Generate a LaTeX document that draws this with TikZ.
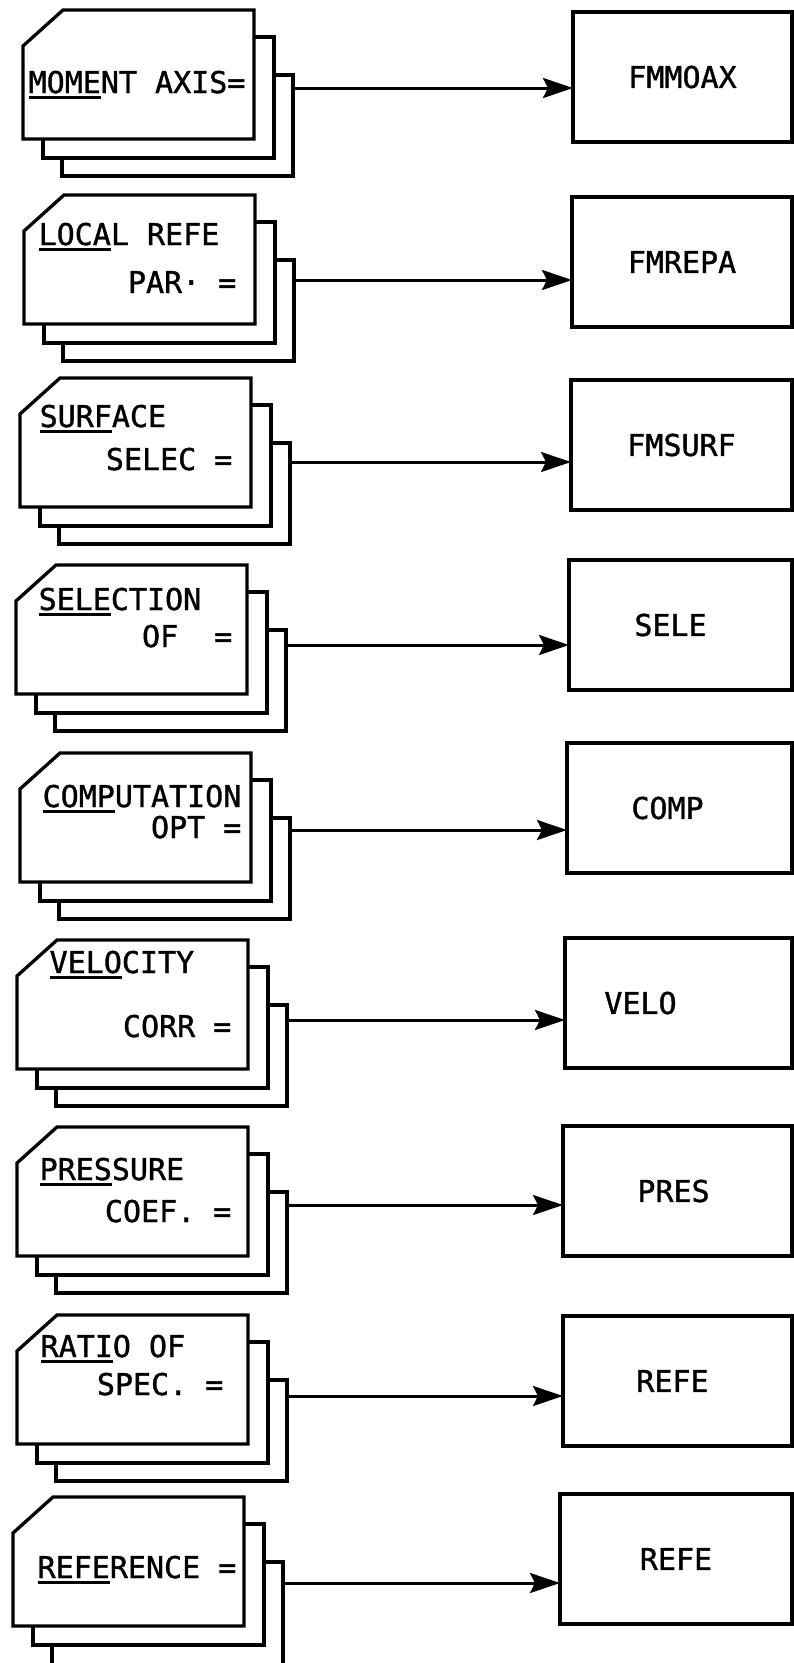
\documentclass[tikz,border=0pt]{standalone}
\usepackage{fontspec}
\newfontfamily\cardface{DejaVu Sans Mono}[FakeBold=1.2]
\usetikzlibrary{arrows.meta}
\newcommand{\cardfont}{\cardface\fontsize{30}{35}\selectfont}
\newcommand{\abbr}[1]{\setbox0\hbox{#1}\rlap{\rule[-6pt]{\wd0}{2.8pt}}\box0}

\begin{document}
\begin{tikzpicture}[x=1pt, y=-1pt, line width=3.3pt,
    card/.style={rectangle, minimum width=231, minimum height=129, inner sep=0pt, outer sep=0pt,
        append after command={\pgfextra{\draw[fill=white] ([xshift=40pt]\tikzlastnode.north west) -- (\tikzlastnode.north east) -- (\tikzlastnode.south east) -- (\tikzlastnode.south west) -- ([yshift=-36pt]\tikzlastnode.north west) -- cycle;}}},
    back/.style={draw, fill=white, rectangle, minimum width=231, minimum height=101, anchor=north west, inner sep=0pt, outer sep=0pt},
    mid/.style={draw, fill=white, rectangle, minimum width=231, minimum height=121, anchor=north west, inner sep=0pt, outer sep=0pt},
    blk/.style={draw, rectangle, minimum height=130, anchor=north west, inner sep=0pt, outer sep=0pt, font=\cardfont},
    txt/.style={inner sep=0pt, font=\cardfont},
    arr/.style={-{Stealth[length=30pt, width=20pt, inset=5pt]}, line width=3pt}
]
\useasboundingbox (0,0) rectangle (794,1663);
\clip (0,0) rectangle (794,1663);

% moment axis
\node[back] (bk1) at (62,75) {};
\node[mid] (md1) at (43,37) {};
\node[card] (cd1) at (138.5,74.5) {};
\node[txt, anchor=base west] (ta1) at (27,93) {\abbr{MOME}NT AXIS=};
\node[blk, minimum width=219] (bx1) at (573,12) {FMMOAX};
\draw[arr] (bk1.east |- 0,88) -- (bx1.west |- 0,88);

% local reference
\node[back] (bk2) at (63,260) {};
\node[mid] (md2) at (44,222) {};
\node[card] (cd2) at (139.5,259.5) {};
\node[txt, anchor=base west] (ta2) at (37,245) {\abbr{LOCA}L REFE};
\node[txt, anchor=base east] (tb2) at (238,293) {PAR· =};
\node[blk, minimum width=220] (bx2) at (572,197) {FMREPA};
\draw[arr] (bk2.east |- 0,280) -- (bx2.west |- 0,280);

% surface
\node[back] (bk3) at (59,443) {};
\node[mid] (md3) at (40,405) {};
\node[card] (cd3) at (135.5,442.5) {};
\node[txt, anchor=base west] (ta3) at (38,427) {\abbr{SURF}ACE};
\node[txt, anchor=base east] (tb3) at (234,470) {SELEC =};
\node[blk, minimum width=221] (bx3) at (571,380) {FMSURF};
\draw[arr] (bk3.east |- 0,462) -- (bx3.west |- 0,462);

% selection
\node[back] (bk4) at (55,630) {};
\node[mid] (md4) at (36,592) {};
\node[card] (cd4) at (131.5,629.5) {};
\node[txt, anchor=base west] (ta4) at (37,610) {\abbr{SELE}CTION};
\node[txt, anchor=base east] (tb4) at (234,647) {OF~~=};
\node[blk, minimum width=223] (bx4) at (569,560) {SELE\kern20pt};
\draw[arr] (bk4.east |- 0,645) -- (bx4.west |- 0,645);

% computation
\node[back] (bk5) at (59,818) {};
\node[mid] (md5) at (40,780) {};
\node[card] (cd5) at (135.5,817.5) {};
\node[txt, anchor=base west] (ta5) at (41,807) {\abbr{COMP}UTATION};
\node[txt, anchor=base east] (tb5) at (243,838) {OPT =};
\node[blk, minimum width=225] (bx5) at (567,743) {COMP\kern24pt};
\draw[arr] (bk5.east |- 0,830) -- (bx5.west |- 0,830);

% velocity
\node[back] (bk6) at (56,1005) {};
\node[mid] (md6) at (37,967) {};
\node[card] (cd6) at (132.5,1004.5) {};
\node[txt, anchor=base west] (ta6) at (48,973) {\abbr{VELO}CITY};
\node[txt, anchor=base east] (tb6) at (233,1037) {CORR =};
\node[blk, minimum width=227] (bx6) at (565,938) {VELO\kern76pt};
\draw[arr] (bk6.east |- 0,1020) -- (bx6.west |- 0,1020);

% pressure
\node[back] (bk7) at (56,1192) {};
\node[mid] (md7) at (37,1154) {};
\node[card] (cd7) at (132.5,1191.5) {};
\node[txt, anchor=base west] (ta7) at (38,1180) {\abbr{PRES}SURE};
\node[txt, anchor=base east] (tb7) at (233,1222) {COEF. =};
\node[blk, minimum width=229] (bx7) at (563,1126) {PRES\kern8pt};
\draw[arr] (bk7.east |- 0,1205) -- (bx7.west |- 0,1205);

% ratio
\node[back] (bk8) at (56,1380) {};
\node[mid] (md8) at (37,1342) {};
\node[card] (cd8) at (132.5,1379.5) {};
\node[txt, anchor=base west] (ta8) at (39,1357) {\abbr{RATI}O OF};
\node[txt, anchor=base east] (tb8) at (225,1395) {SPEC. =};
\node[blk, minimum width=229] (bx8) at (563,1316) {REFE\kern10pt};
\draw[arr] (bk8.east |- 0,1396) -- (bx8.west |- 0,1396);

% reference
\node[back, minimum height=106] (bk9) at (52,1562) {};
\node[mid] (md9) at (33,1524) {};
\node[card] (cd9) at (128.5,1561.5) {};
\node[txt, anchor=base west] (ta9) at (36,1578) {\abbr{REFE}RENCE =};
\node[blk, minimum width=232] (bx9) at (560,1494) {REFE};
\draw[arr] (bk9.east |- 0,1583) -- (bx9.west |- 0,1583);
\end{tikzpicture}
\end{document}
